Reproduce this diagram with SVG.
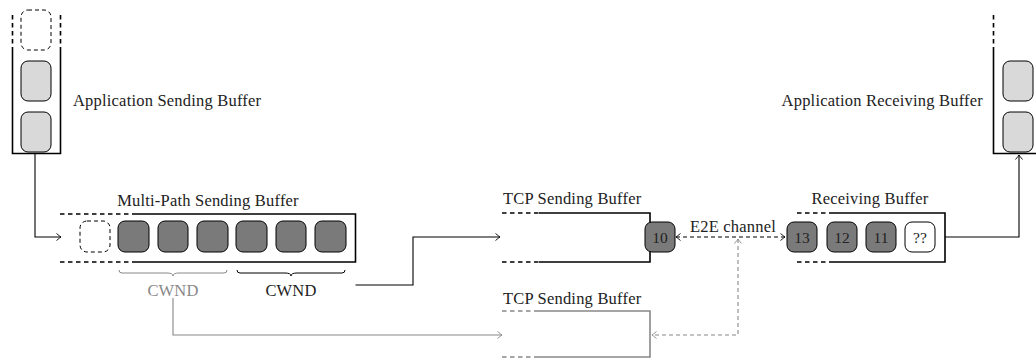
<svg xmlns="http://www.w3.org/2000/svg" width="1036" height="360" viewBox="0 0 1036 360">
<style>
text{font-family:"Liberation Serif","DejaVu Serif",serif;font-size:16.5px;letter-spacing:0.2px;fill:#222}
.t{text-anchor:middle}
.g{fill:#888}
.wall{fill:none;stroke:#000;stroke-width:1.6}
.wallg{fill:none;stroke:#888;stroke-width:1.6}
.dash{stroke-dasharray:4.5,3.5}
.lt{fill:#d9d9d9;stroke:#000;stroke-width:1}
.dk{fill:#7a7a7a;stroke:#000;stroke-width:1}
.wh{fill:#fff;stroke:#000;stroke-width:1}
.db{fill:none;stroke:#000;stroke-width:1;stroke-dasharray:4,3}
.num{font-size:15.5px;text-anchor:middle;letter-spacing:0}
.c{fill:none;stroke:#000;stroke-width:1.1}
.cg{fill:none;stroke:#888;stroke-width:1.1}
.brace{fill:none;stroke-width:1}
</style>
<defs>
<marker id="ab" markerUnits="userSpaceOnUse" markerWidth="10" markerHeight="10" viewBox="-6 -5 8 10" refX="0" refY="0" orient="auto-start-reverse"><path d="M-4.5,-3.5 Q-1,-0.6 0,0 Q-1,0.6 -4.5,3.5" fill="none" stroke="#000" stroke-width="0.9"/></marker>
<marker id="ag" markerUnits="userSpaceOnUse" markerWidth="10" markerHeight="10" viewBox="-6 -5 8 10" refX="0" refY="0" orient="auto-start-reverse"><path d="M-4.5,-3.5 Q-1,-0.6 0,0 Q-1,0.6 -4.5,3.5" fill="none" stroke="#888" stroke-width="0.9"/></marker>
</defs>

<g id="app-send">
<path class="wall dash" d="M12.5,15 V47 M60.5,15 V47"/>
<path class="wall" d="M12.5,47 V153.5 H60.5 V47"/>
<rect class="db" x="21" y="10" width="30" height="40" rx="7"/>
<rect class="lt" x="21" y="61" width="30" height="40" rx="7"/>
<rect class="lt" x="21" y="112" width="30" height="40" rx="7"/>
<text x="73" y="106">Application Sending Buffer</text>
</g>

<g id="mp-send">
<text class="t" x="208" y="206">Multi-Path Sending Buffer</text>
<path class="wall dash" d="M60,214 H132 M60,262 H132"/>
<path class="wall" d="M132,214 H355.5 V262 H132"/>
<rect class="db" x="80" y="221" width="30" height="31" rx="7"/>
<rect class="dk" x="118" y="221" width="31" height="31" rx="7"/>
<rect class="dk" x="158" y="221" width="30" height="31" rx="7"/>
<rect class="dk" x="197" y="221" width="31" height="31" rx="7"/>
<rect class="dk" x="236" y="221" width="31" height="31" rx="7"/>
<rect class="dk" x="276" y="221" width="30" height="31" rx="7"/>
<rect class="dk" x="315" y="221" width="31" height="31" rx="7"/>
<path class="brace" stroke="#888" d="M119,270 q0,3 3,3 h45 q6,0 6,3 q0,-3 6,-3 h45 q3,0 3,-3"/>
<path class="brace" stroke="#000" d="M237,270 q0,3 3,3 h45 q6,0 6,3 q0,-3 6,-3 h45 q3,0 3,-3"/>
<text class="t g" x="173" y="296">CWND</text>
<text class="t" x="291" y="296">CWND</text>
</g>

<g id="tcp-send-1">
<text x="503" y="204">TCP Sending Buffer</text>
<path class="wall dash" d="M502,213 H539 M502,262 H539"/>
<path class="wall" d="M539,213 H650 V262 H539"/>
<rect class="dk" x="645" y="222" width="30" height="30" rx="7"/>
<text class="num" x="660" y="242.5">10</text>
</g>

<g id="tcp-send-2">
<text x="503" y="304">TCP Sending Buffer</text>
<path class="wallg dash" d="M502,311 H538 M502,357 H538"/>
<path class="wallg" d="M538,311 H650 V357 H538"/>
</g>

<g id="recv">
<text class="t" x="870" y="204">Receiving Buffer</text>
<path class="wall dash" d="M797,213 H833 M797,262 H833"/>
<path class="wall" d="M833,213 H945 V262 H833"/>
<rect class="dk" x="787" y="222" width="30" height="30" rx="7"/>
<text class="num" x="802" y="242.5">13</text>
<rect class="dk" x="827" y="222" width="30" height="30" rx="7"/>
<text class="num" x="842" y="242.5">12</text>
<rect class="dk" x="866" y="222" width="30" height="30" rx="7"/>
<text class="num" x="881" y="242.5">11</text>
<rect class="wh" x="905" y="222" width="30" height="30" rx="7"/>
<text class="num" x="920" y="242.5">??</text>
</g>

<g id="app-recv">
<path class="wall dash" d="M993.5,15 V47 M1041,15 V47"/>
<path class="wall" d="M993.5,47 V153.5 H1041 V47"/>
<rect class="lt" x="1003" y="61" width="30" height="40" rx="7"/>
<rect class="lt" x="1003" y="112" width="30" height="40" rx="7"/>
<text x="983" y="106" text-anchor="end">Application Receiving Buffer</text>
</g>

<g id="connectors">
<path class="c" d="M35,153.5 V237 H61" marker-end="url(#ab)"/>
<path class="c" d="M355.5,285 H413 V237 H500" marker-end="url(#ab)"/>
<path class="cg" d="M173,298 V335 H502" marker-end="url(#ag)"/>
<path class="c" d="M676,237 H785" stroke-dasharray="4,3" marker-start="url(#ab)" marker-end="url(#ab)"/>
<text class="t" x="733" y="232">E2E channel</text>
<path class="cg" d="M738,239 V335 H652" stroke-dasharray="4,3" marker-start="url(#ag)" marker-end="url(#ag)"/>
<path class="c" d="M945,237 H1019 V155" marker-end="url(#ab)"/>
</g>
</svg>
